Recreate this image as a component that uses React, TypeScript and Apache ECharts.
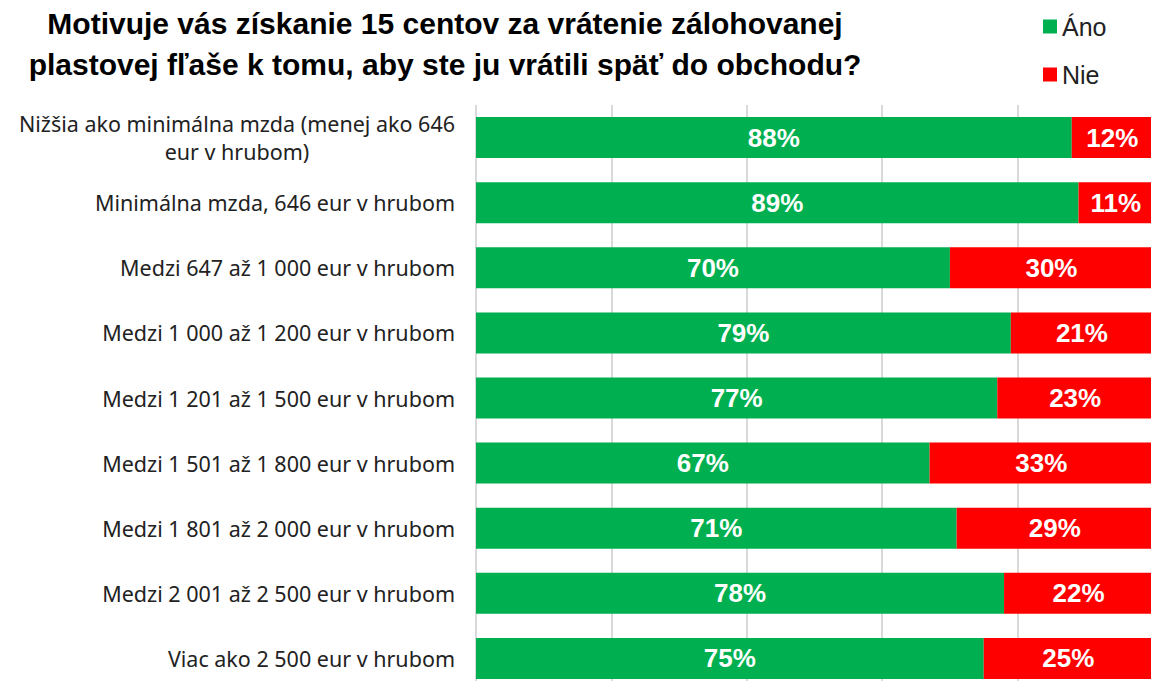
import React, { useEffect, useRef } from "react";
import * as echarts from "echarts";

const titleText =
  "Motivuje vás získanie 15 centov za vrátenie zálohovanej\nplastovej fľaše k tomu, aby ste ju vrátili späť do obchodu?";

const categories = [
  "Nižšia ako minimálna mzda (menej ako 646 eur v hrubom)",
  "Minimálna mzda, 646 eur v hrubom",
  "Medzi 647 až 1 000 eur v hrubom",
  "Medzi 1 000 až 1 200 eur v hrubom",
  "Medzi 1 201 až 1 500 eur v hrubom",
  "Medzi 1 501 až 1 800 eur v hrubom",
  "Medzi 1 801 až 2 000 eur v hrubom",
  "Medzi 2 001 až 2 500 eur v hrubom",
  "Viac ako 2 500 eur v hrubom",
];

const anoValues = [88, 89, 70, 79, 77, 67, 71, 78, 75];
const nieValues = [12, 11, 30, 21, 23, 33, 29, 22, 25];

const seriesNames = ["Áno", "Nie"];

export default function App() {
  const ref = useRef<HTMLDivElement>(null);
  useEffect(() => {
    if (!ref.current) return;
    const chart = echarts.init(ref.current, null, { renderer: "svg" });
    const labelStyle = {
      show: true,
      position: "inside",
      color: "#ffffff",
      fontWeight: "bold",
      fontSize: 26,
      fontFamily: "Liberation Sans",
      formatter: (p: any) => p.value + "%",
    };
    const catFont = { fontFamily: "Noto Sans", fontSize: 21.5, color: "#222222", lineHeight: 28 };
    chart.setOption({
      animation: false,
      backgroundColor: "#ffffff",
      title: {
        text: titleText,
        left: 440,
        top: -2,
        textAlign: "center",
        textStyle: {
          fontFamily: "Liberation Sans",
          fontWeight: "bold",
          fontSize: 30,
          lineHeight: 41,
          color: "#000000",
        },
      },
      legend: {
        orient: "vertical",
        left: 1038,
        top: 9,
        itemWidth: 14,
        itemHeight: 14,
        itemGap: 23,
        icon: "rect",
        textStyle: {
          fontFamily: "Liberation Sans",
          fontSize: 25,
          color: "#222222",
        },
        data: seriesNames,
      },
      grid: {
        left: 476,
        top: 105,
        width: 677,
        height: 586,
        containLabel: false,
      },
      xAxis: {
        type: "value",
        min: 0,
        max: 100,
        interval: 20,
        axisLabel: { show: false },
        axisLine: { show: false },
        axisTick: { show: false },
        splitLine: { show: true, lineStyle: { color: "#d9d9d9", width: 2 } },
      },
      yAxis: {
        type: "category",
        inverse: true,
        data: categories,
        axisLine: { show: false },
        axisTick: { show: false },
        axisLabel: {
          margin: 21,
          ...catFont,
          formatter: (v: string) => {
            if (v.length > 40) {
              const idx = v.indexOf(" eur");
              return "{a|" + v.slice(0, idx) + "}\n{c|" + v.slice(idx + 1) + "}";
            }
            return v;
          },
          rich: {
            a: { ...catFont },
            c: { ...catFont, align: "center" },
          },
        },
      },
      series: [
        {
          name: seriesNames[0],
          type: "bar",
          stack: "total",
          data: anoValues,
          barCategoryGap: "37%",
          itemStyle: { color: "#00B050" },
          label: labelStyle,
        },
        {
          name: seriesNames[1],
          type: "bar",
          stack: "total",
          data: nieValues,
          barCategoryGap: "37%",
          itemStyle: { color: "#FF0000" },
          label: labelStyle,
        },
      ],
    });
    return () => chart.dispose();
  }, []);
  return (
    <div style={{ width: 1151, height: 681, position: "absolute", left: 0, top: 0, overflow: "hidden" }}>
      <div ref={ref} style={{ width: 1160, height: 700 }} />
    </div>
  );
}
